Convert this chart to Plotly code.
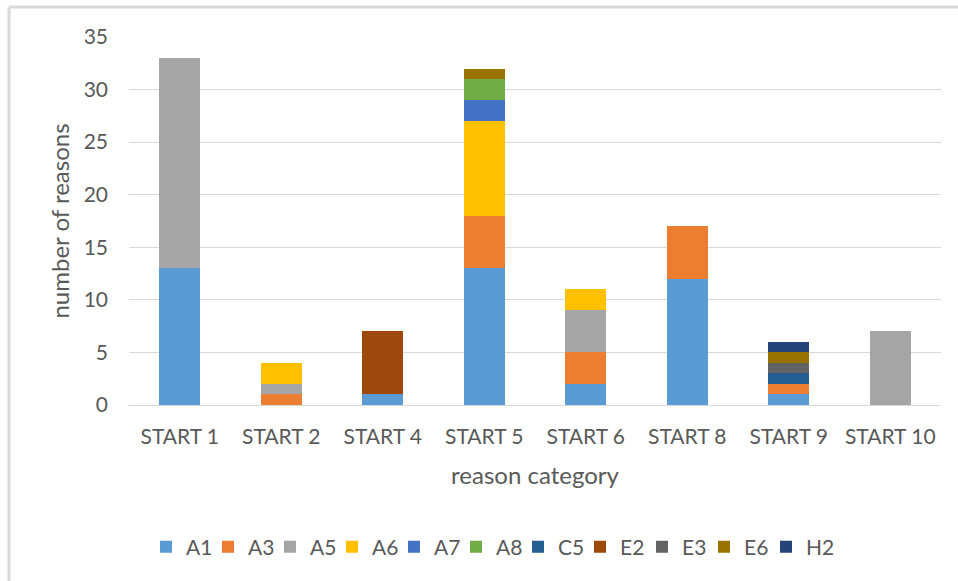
import plotly.graph_objects as go

categories = ["START 1", "START 2", "START 4", "START 5", "START 6", "START 8", "START 9", "START 10"]

A1 = [13, 0, 1, 13, 2, 12, 1, 0]
A3 = [0, 1, 0, 5, 3, 5, 1, 0]
A5 = [20, 1, 0, 0, 4, 0, 0, 7]
A6 = [0, 2, 0, 9, 2, 0, 0, 0]
A7 = [0, 0, 0, 2, 0, 0, 0, 0]
A8 = [0, 0, 0, 2, 0, 0, 0, 0]
C5 = [0, 0, 0, 0, 0, 0, 1, 0]
E2 = [0, 0, 6, 0, 0, 0, 0, 0]
E3 = [0, 0, 0, 0, 0, 0, 1, 0]
E6 = [0, 0, 0, 1, 0, 0, 1, 0]
H2 = [0, 0, 0, 0, 0, 0, 1, 0]

series = [
    ("A1", A1, "#5B9BD5"),
    ("A3", A3, "#ED7D31"),
    ("A5", A5, "#A5A5A5"),
    ("A6", A6, "#FFC000"),
    ("A7", A7, "#4472C4"),
    ("A8", A8, "#70AD47"),
    ("C5", C5, "#255E91"),
    ("E2", E2, "#9E480E"),
    ("E3", E3, "#636363"),
    ("E6", E6, "#997300"),
    ("H2", H2, "#264478"),
]

W, H = 958, 581
ML, MR, MT, MB = 129, 17, 37, 176
PW, PH = W - ML - MR, H - MT - MB

fig = go.Figure()
for name, vals, color in series:
    fig.add_trace(go.Bar(
        name=name, x=categories, y=vals,
        marker=dict(color=color, line=dict(width=0)),
    ))

# blank trailing legend slot so the last label is not clipped by the
# fixed entry width of the horizontal legend
fig.add_trace(go.Scatter(
    name=" ", x=[None], y=[None], mode="markers", showlegend=True,
    hoverinfo="skip", marker=dict(color="rgba(0,0,0,0)", size=1),
))

font_family = "Lato, 'Open Sans', sans-serif"
txt = "#595959"

def px_x(p):
    return (p - ML) / PW

def px_y(p):
    return (H - MB - p) / PH

# light frame along the left and top edges
frame = "#d9d9d9"
fig.add_shape(type="line", xref="paper", yref="paper",
              x0=px_x(9), x1=px_x(9), y0=px_y(7), y1=px_y(H),
              line=dict(color=frame, width=3))
fig.add_shape(type="line", xref="paper", yref="paper",
              x0=px_x(9), x1=px_x(W), y0=px_y(7), y1=px_y(7),
              line=dict(color=frame, width=3))

fig.update_layout(
    width=W, height=H,
    margin=dict(l=ML, r=MR, t=MT, b=MB),
    barmode="stack",
    bargap=0.595,
    plot_bgcolor="white",
    paper_bgcolor="white",
    font=dict(family=font_family, color=txt, size=21),
    showlegend=True,
    legend=dict(
        orientation="h",
        x=px_x(146), xanchor="left",
        y=px_y(547), yanchor="middle",
        font=dict(size=21, color=txt),
        traceorder="normal",
        itemwidth=30,
        entrywidth=17,
        itemclick=False,
    ),
    xaxis=dict(
        title=dict(text="reason category", font=dict(size=24, color=txt), standoff=19),
        tickfont=dict(size=21, color=txt),
        showline=True, linecolor="#d9d9d9", linewidth=1,
        ticks="", showgrid=False,
        ticklabelstandoff=13,
    ),
    yaxis=dict(
        title=dict(text="number of reasons", font=dict(size=24, color=txt), standoff=7),
        range=[0, 35],
        dtick=5,
        tickfont=dict(size=21, color=txt),
        showgrid=True, gridcolor="#d9d9d9", gridwidth=1,
        zeroline=False,
        ticks="", ticklabelstandoff=20,
    ),
)

fig.write_html("out.html")
